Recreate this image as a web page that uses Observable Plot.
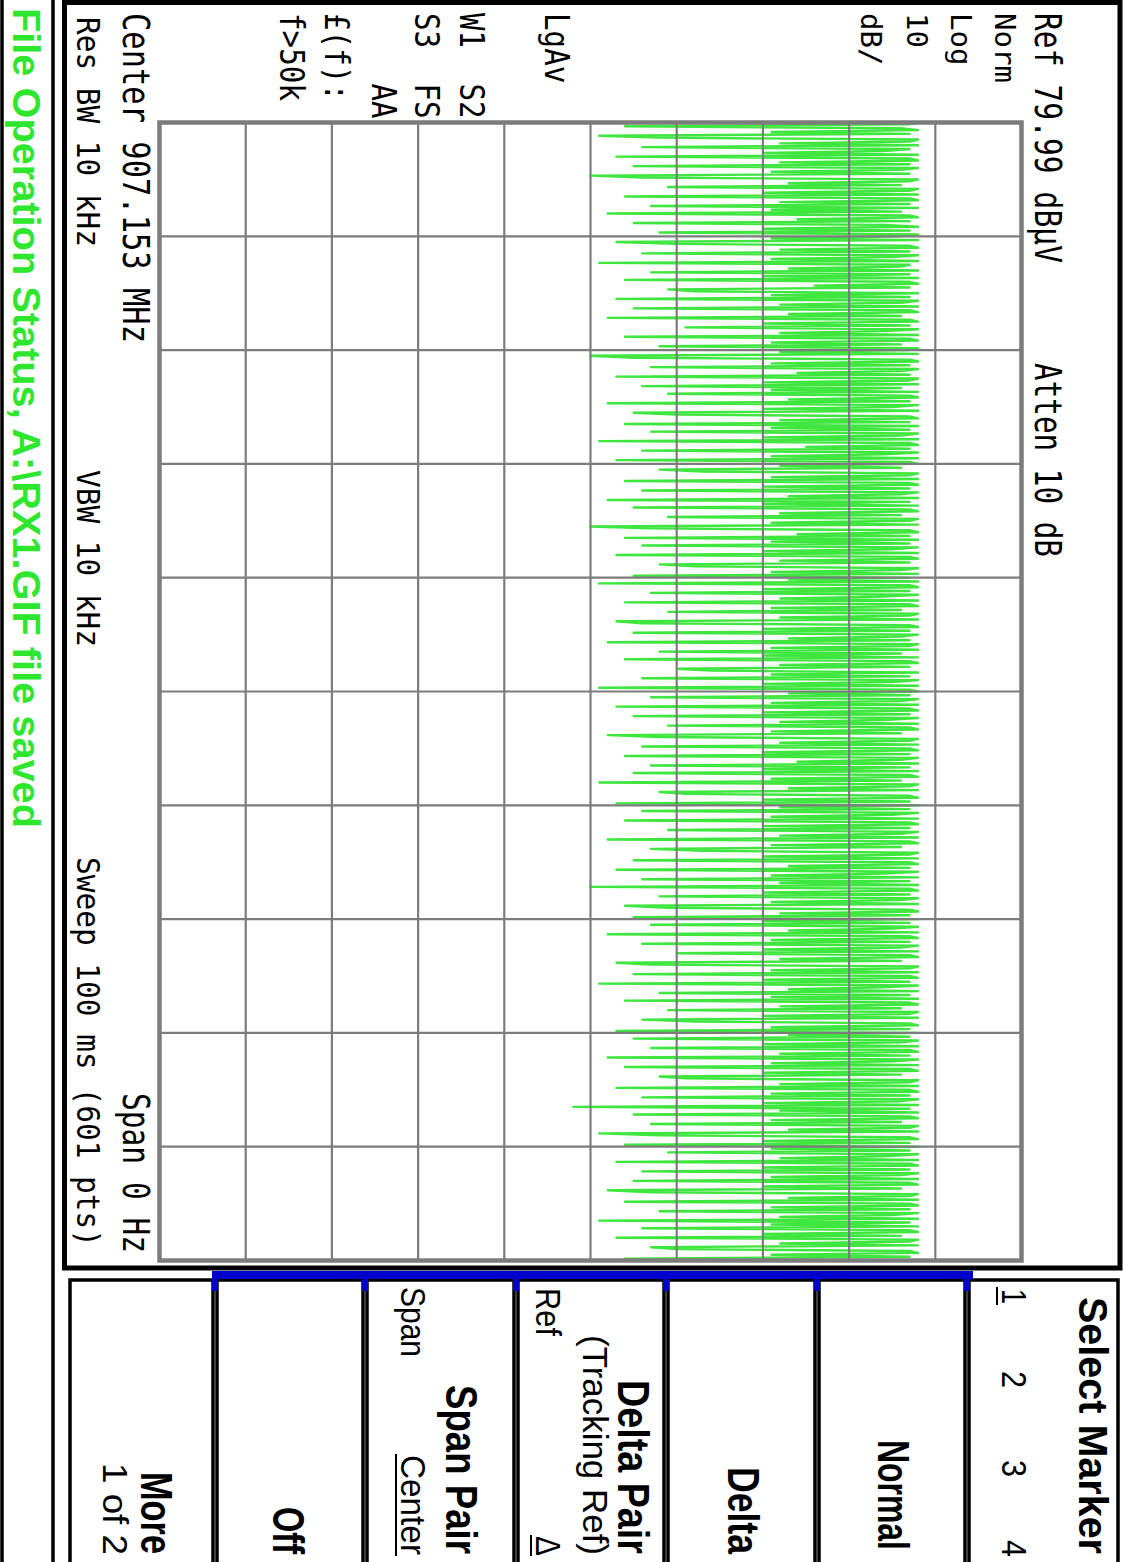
<!DOCTYPE html>
<html>
<head>
<meta charset="utf-8">
<script src="https://cdn.jsdelivr.net/npm/d3@7"></script>
<script src="https://cdn.jsdelivr.net/npm/@observablehq/plot@0.6"></script>
<style>
  html, body { margin:0; padding:0; background:#fff; }
  body { width:1123px; height:1562px; overflow:hidden; position:relative; }
  #screen { position:absolute; left:0; top:0; width:1562px; height:1123px;
            transform-origin:0 0; transform:translate(1123px,0) rotate(90deg);
            overflow:hidden; background:#fff; }
  #screen svg { position:absolute; left:0; top:0; }
</style>
</head>
<body>
<div id="screen"></div>
<script>
// ---- Instrument settings / labels ----
const refLevel = 79.99;          // dBµV
const dbPerDiv = 10;
const sweepPoints = 601;
const gridTimes = [0, 60, 120, 180, 240, 300, 360, 420, 480, 540, 600];   // point index
const gridLevels = [79.99, 69.99, 59.99, 49.99, 39.99, 29.99, 19.99, 9.99, -0.01, -10.01, -20.01];

// ---- Trace: 601 amplitude readings (dBµV), zero span ----
const trace = [
68,67,34,66,68,51,67,31,38,68,67,52,68,36,67,64,50,68,33,67,
68,52,67,35,68,66,51,67,30,36,68,67,53,66,39,68,67,50,68,34,
67,68,52,67,37,68,51,66,32,67,68,54,67,35,64,68,50,67,38,68,
66,51,68,33,40,67,68,52,67,36,68,65,51,68,31,67,66,53,68,37,
67,50,68,34,67,68,56,67,39,42,68,51,67,33,68,66,52,68,35,67,
68,53,66,32,67,68,50,67,41,68,64,52,68,34,67,68,51,66,38,68,
67,52,68,30,35,67,68,51,67,37,68,66,54,67,33,68,67,50,68,36,
66,51,68,39,67,68,53,67,32,68,65,50,68,35,40,67,68,52,67,34,
68,51,67,37,68,66,50,68,31,67,68,55,67,36,68,64,51,68,33,67,
68,52,66,38,43,68,67,51,68,34,67,68,50,67,36,68,66,53,68,32,
67,50,68,35,67,68,52,66,39,68,67,51,68,30,37,67,68,54,67,34,
68,51,67,36,68,65,50,68,33,67,68,52,67,38,42,68,66,51,68,35,
67,53,68,31,67,68,50,67,37,68,64,52,68,34,67,68,51,66,39,68,
67,52,68,33,36,67,68,50,67,35,68,66,53,67,32,68,67,51,68,38,
66,50,68,34,67,68,52,67,40,44,68,51,67,36,68,65,50,68,31,67,
68,53,67,37,68,66,51,68,33,67,68,50,67,35,68,64,52,68,39,67,
68,51,66,32,38,68,67,52,68,36,67,68,50,67,34,68,66,54,68,37,
67,50,68,35,67,68,51,66,31,68,67,53,68,38,41,67,68,50,67,33,
68,52,67,36,68,65,51,68,34,67,68,50,67,39,68,66,52,68,32,67,
68,51,66,37,43,68,67,50,68,35,67,68,53,67,33,68,64,51,68,36,
67,52,68,30,67,68,50,67,38,68,66,51,68,34,39,67,68,52,67,35,
68,50,67,37,68,65,53,68,32,67,68,51,67,36,68,66,50,68,40,67,
68,52,66,33,37,68,67,51,68,35,67,68,50,67,31,68,64,53,68,38,
67,51,68,34,67,68,52,66,39,68,67,50,68,36,42,67,68,51,67,33,
68,53,67,35,68,66,50,68,37,67,68,52,67,32,68,65,51,68,34,67,
68,50,66,38,41,68,67,52,68,33,67,68,51,67,36,68,66,50,68,28,
67,52,68,35,67,68,51,66,37,68,67,53,68,31,38,67,68,50,67,34,
68,51,67,39,68,64,52,68,33,67,68,50,67,36,68,66,51,68,35,67,
68,50,66,32,37,68,67,53,68,34,67,68,51,67,38,68,65,52,68,31,
67,51,68,36,67,68,50,66,33,68,67,52,68,37,40,67,68,51,67,34,
68
];

// ---- Annotation texts ----
const headerTexts = ["Ref 79.99 dBµV", "Atten 10 dB"];
const scaleTexts = ["Norm", "Log", "10", "dB/"];
const sideTexts = ["LgAv", "W1  S2", "S3  FS", "    AA", "£(f):", "f>50k"];
const footerTexts = ["Center 907.153 MHz", "Res BW 10 kHz", "VBW 10 kHz", "Sweep 100 ms (601 pts)", "Span 0 Hz"];
const statusText = "File Operation Status, A:\\RX1.GIF file saved";
const softkeys = ["Select Marker", "Normal", "Delta", "Delta Pair", "Span Pair", "Off", "More"];
const softkeyNotes = ["1", "2", "3", "4", "(Tracking Ref)", "Ref", "Δ", "Span", "Center", "1 of 2"];

const rows = trace.map((v, i) => ({i, v}));

const chart = Plot.plot({
  width: 1562, height: 1123,
  marginLeft: 122, marginRight: 302, marginTop: 101, marginBottom: 160,
  style: {background: "transparent"},
  x: {domain: [0, sweepPoints - 1], axis: null},
  y: {domain: [refLevel - 10 * dbPerDiv, refLevel], axis: null},
  marks: [
    Plot.line(rows, {x: "i", y: "v", stroke: "#3fe63f", strokeWidth: 2.4, curve: "linear"}),
    Plot.ruleX(gridTimes.slice(1, -1), {stroke: "#7c7c7c", strokeWidth: 2.2}),
    Plot.ruleY(gridLevels.slice(1, -1), {stroke: "#7c7c7c", strokeWidth: 2.2}),
    Plot.frame({stroke: "#7c7c7c", strokeWidth: 4.5})
  ]
});
const screen = document.getElementById("screen");
screen.appendChild(chart);

// ---- Overlay: instrument frame, annotations, softkeys ----
const svg = d3.create("svg").attr("width", 1562).attr("height", 1123);
const MONO = "DejaVu Sans Mono";
const SANS = "Liberation Sans";

function label(s, x, y, o) {
  const t = svg.append("text")
    .attr("transform", `translate(${x},${y}) scale(1,${o.sy || 1})`)
    .attr("font-family", o.family || MONO)
    .attr("font-size", o.size || 28)
    .attr("font-weight", o.weight || "normal")
    .attr("fill", o.fill || "#000")
    .style("white-space", "pre")
    .text(s);
  if (o.len) t.attr("textLength", o.len).attr("lengthAdjust", "spacingAndGlyphs");
  return t;
}

// status strip
svg.append("rect").attr("x", -10).attr("y", 1070).attr("width", 1600).attr("height", 51)
  .attr("fill", "none").attr("stroke", "#000").attr("stroke-width", 3.5);
label(statusText, 8, 1110, {family: SANS, weight: "bold", size: 38, fill: "#2ee62e", len: 820});

// main display box
svg.append("rect").attr("x", 2.5).attr("y", 3).attr("width", 1265.5).attr("height", 1055.5)
  .attr("fill", "none").attr("stroke", "#000").attr("stroke-width", 5);

// header
label(headerTexts[0], 13, 88, {size: 29, sy: 1.3, len: 250});
label(headerTexts[1], 363, 88, {size: 29, sy: 1.3, len: 194});
const scaleY = [128, 172, 216, 262];
scaleTexts.forEach((s, k) => label(s, 13, scaleY[k], {size: 29, sy: 1.0, len: 17.5 * s.length}));
const sideY = [578, 663, 708, 751, 798, 843];
sideTexts.forEach((s, k) => label(s, 13, sideY[k], {size: 29, sy: 1.15, len: 17.6 * s.length}));

// footer
label(footerTexts[0], 13, 1000, {size: 29, sy: 1.3, len: 330});
label(footerTexts[1], 17, 1046, {size: 29, sy: 1.1, len: 230});
label(footerTexts[2], 470, 1046, {size: 29, sy: 1.1, len: 177});
label(footerTexts[3], 857, 1046, {size: 29, sy: 1.1, len: 390});
label(footerTexts[4], 1093, 1000, {size: 29, sy: 1.3, len: 160});

// softkeys
const keyBounds = [3, 156, 306, 457, 607, 758, 908, 1055];
for (let k = 0; k < 7; k++) {
  svg.append("rect").attr("x", 1280).attr("y", keyBounds[k] + 2)
    .attr("width", 400).attr("height", keyBounds[k + 1] - keyBounds[k] - 4)
    .attr("fill", "none").attr("stroke", "#000").attr("stroke-width", 3.5);
}
svg.append("rect").attr("x", 1271).attr("y", 150).attr("width", 8).attr("height", 760).attr("fill", "#0000cc");
keyBounds.slice(1, 7).forEach(b => {
  svg.append("rect").attr("x", 1271).attr("y", b - 3).attr("width", 20).attr("height", 6).attr("fill", "#0000cc");
});

// main softkey labels: [text, start x, baseline y, end x, font size, vertical scale]
const keyMain = [
  [softkeys[0], 1297, 44, 1554, 37, 1.12], [softkeys[1], 1440, 245, 1550, 33, 1.37], [softkeys[2], 1467, 395, 1554, 35, 1.29],
  [softkeys[3], 1380, 505, 1554, 36, 1.25], [softkeys[4], 1385, 677, 1554, 36, 1.25], [softkeys[5], 1507, 850, 1554, 33, 1.37],
  [softkeys[6], 1472, 982, 1554, 34, 1.33]
];
keyMain.forEach(([s, x, y, e, size, sy]) => label(s, x, y, {family: SANS, weight: "bold", size, sy, len: e - x}));

const keySub = [
  [softkeyNotes[0], 1289, 121, 15], [softkeyNotes[1], 1371, 121, 17], [softkeyNotes[2], 1460, 121, 17], [softkeyNotes[3], 1540, 121, 17],
  [softkeyNotes[4], 1335, 540, 220], [softkeyNotes[5], 1288, 587, 48], [softkeyNotes[6], 1536, 587, 20],
  [softkeyNotes[7], 1287, 722, 70], [softkeyNotes[8], 1455, 722, 100], [softkeyNotes[9], 1463, 1020, 92]
];
keySub.forEach(([s, x, y, w]) => label(s, x, y, {family: SANS, size: 29, sy: 1.2, len: w}));
// underlines for the selected options
[[1287, 1305, 126], [1454, 1556, 727], [1535, 1556, 592]].forEach(([a, b, y]) =>
  svg.append("line").attr("x1", a).attr("x2", b).attr("y1", y).attr("y2", y).attr("stroke", "#000").attr("stroke-width", 2));

screen.appendChild(svg.node());
</script>
</body>
</html>
